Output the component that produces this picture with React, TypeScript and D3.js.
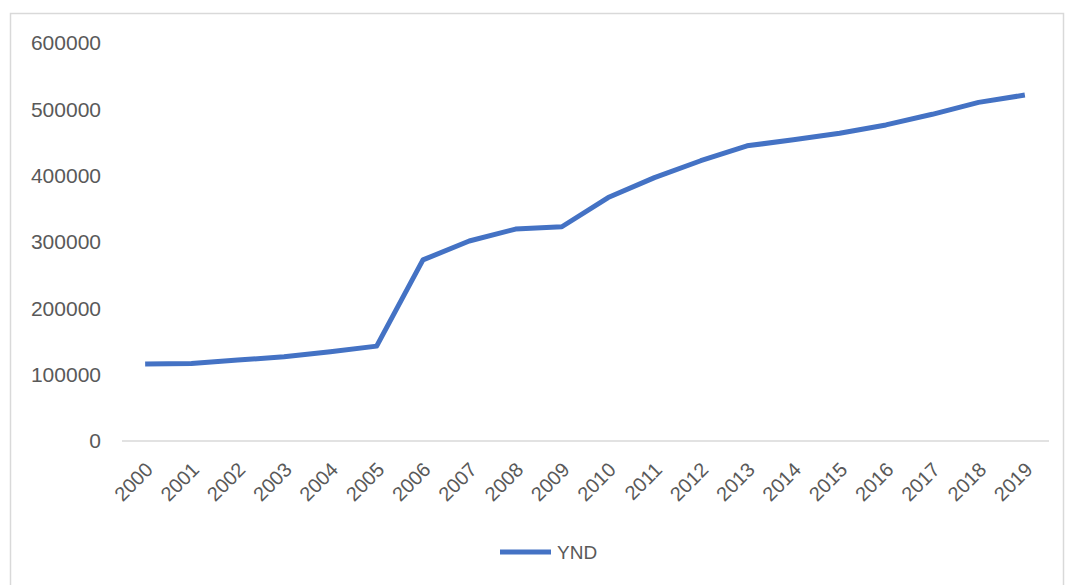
import React, { useEffect, useRef } from "react";
import * as d3 from "d3";

const years = ["2000","2001","2002","2003","2004","2005","2006","2007","2008","2009","2010","2011","2012","2013","2014","2015","2016","2017","2018","2019"];
const ynd = [116000,117000,122000,127000,134500,143000,273000,301500,319500,323000,367000,397000,422500,445000,454000,464000,476500,492500,510500,521500];
const yTicks = [0,100000,200000,300000,400000,500000,600000];
const seriesName = "YND";

export default function App() {
  const ref = useRef<SVGSVGElement>(null);
  useEffect(() => {
    const svg = d3.select(ref.current!);
    svg.selectAll("*").remove();
    const font = "'Liberation Sans', Arial, sans-serif";
    const textColor = "#595959";

    svg.append("rect").attr("x", 10.5).attr("y", 13.5).attr("width", 1053).attr("height", 600)
      .attr("fill", "white").attr("stroke", "#d9d9d9").attr("stroke-width", 1.5);

    const x = d3.scaleBand<string>().domain(years).range([122, 1048]).padding(0);
    const y = d3.scaleLinear().domain([0, 600000]).range([441, 43]);

    // axis line
    svg.append("line").attr("x1", 122).attr("x2", 1049).attr("y1", y(0)).attr("y2", y(0))
      .attr("stroke", "#d9d9d9").attr("stroke-width", 1.5);

    // y labels
    svg.append("g").selectAll("text").data(yTicks).join("text")
      .attr("x", 101).attr("y", d => y(d)).attr("dy", "0.35em")
      .attr("text-anchor", "end").attr("font-family", font).attr("font-size", 21)
      .attr("fill", textColor).text(d => String(d));

    // x labels
    svg.append("g").selectAll("text").data(years).join("text")
      .attr("transform", d => `translate(${x(d)! + x.bandwidth() / 2 + 4},${466}) rotate(-45)`)
      .attr("dy", "0.35em")
      .attr("text-anchor", "end").attr("font-family", font).attr("font-size", 20)
      .attr("fill", textColor).text(d => d);

    const line = d3.line<number>()
      .x((_, i) => x(years[i])! + x.bandwidth() / 2)
      .y(d => y(d));
    svg.append("path").datum(ynd).attr("d", line).attr("fill", "none")
      .attr("stroke", "#4472C4").attr("stroke-width", 5).attr("stroke-linejoin", "round");

    // legend
    svg.append("line").attr("x1", 500).attr("x2", 551).attr("y1", 552).attr("y2", 552)
      .attr("stroke", "#4472C4").attr("stroke-width", 5);
    svg.append("text").attr("x", 557).attr("y", 552).attr("dy", "0.35em")
      .attr("font-family", font).attr("font-size", 19).attr("fill", textColor).text(seriesName);
  }, []);
  return (
    <svg ref={ref} width={1065} height={585}
      style={{ position: "absolute", left: 0, top: 0, background: "white" }} />
  );
}
